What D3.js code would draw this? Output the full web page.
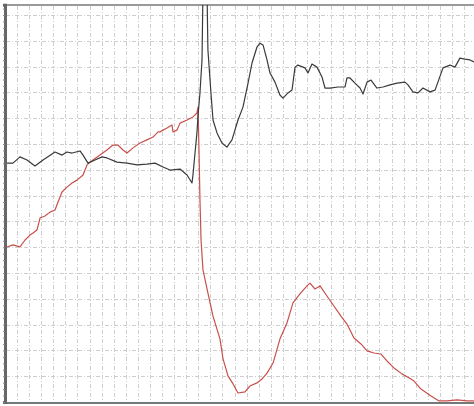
<!DOCTYPE html>
<html>
<head>
<meta charset="utf-8">
<script src="https://cdn.jsdelivr.net/npm/d3@7"></script>
<style>
  body { margin: 0; background: #fff; }
  .grid line { stroke: #cdcdcd; stroke-width: 1; stroke-dasharray: 4,2,1,2; shape-rendering: crispEdges; }
  .trace { fill: none; stroke-width: 1.2; stroke-linejoin: round; }
</style>
</head>
<body>
<script>
// x in tenths of a grid division, y in tenths of a grid division
var blackX = [1.7,6.6,12.4,18.2,24.8,31.5,41.4,47.2,51.3,55.5,62.1,64.6,68.7,74.5,80.3,84.4,92.7,101.0,109.3,117.5,124.2,130.8,136.6,144.9,150.7,154.8,155.6,157.3,158.9,159.8,161.4,163.1,163.9,167.2,168.0,170.5,172.2,175.5,179.6,183.7,187.9,192.9,197.0,201.2,204.5,208.6,211.1,213.6,216.9,219.4,223.5,227.6,230.1,234.3,237.6,240.1,242.5,248.3,250.8,254.1,258.3,262.4,264.9,269.0,275.7,281.5,283.1,285.6,289.7,293.9,296.4,299.7,303.0,307.9,312.9,318.7,324.5,331.1,333.6,337.7,341.9,346.0,351.8,356.0,358.4,362.6,368.4,372.5,376.6,380.8,384.9,388.2];
var blackY = [92.6,92.6,95.0,93.8,91.5,93.8,96.9,95.7,96.9,96.5,97.3,95.7,92.6,93.8,95.0,94.6,93.0,92.6,91.9,92.2,92.6,91.1,89.9,90.3,88.0,84.9,88.0,96.5,104.3,111.2,119.8,132.6,160,160,136.4,119.8,109.3,104.3,100.4,98.8,101.6,109.3,114.3,123.6,131.4,137.6,139.1,138.4,132.6,127.5,124.0,119.0,117.8,119.8,120.9,129.8,130.6,129.5,127.5,131.0,129.8,126.0,121.7,121.7,122.1,122.1,125.6,125.6,123.6,121.7,119.4,124.0,124.8,121.7,122.1,122.9,123.6,124.0,122.9,120.2,119.8,121.7,120.2,120.9,124.0,129.5,130.6,129.8,133.3,132.9,132.6,131.8];

var redX = [1.7,6.6,12.4,16.6,20.7,23.2,26.5,29.0,33.1,37.3,41.4,43.9,47.2,51.3,55.5,59.6,64.6,67.9,72.8,78.6,84.4,89.4,93.5,97.7,101.0,106.0,111.8,117.5,122.5,126.7,128.3,134.1,138.2,139.1,142.4,144.9,150.7,155.6,158.9,159.8,160.6,161.4,162.3,163.9,168.0,172.2,178.0,180.5,184.6,188.8,192.9,198.7,202.8,208.6,212.7,216.9,221.9,227.6,233.4,238.4,244.2,250.0,252.5,256.6,260.8,266.5,272.3,278.1,283.1,288.9,294.7,299.7,305.5,311.3,316.2,322.0,328.6,336.1,338.6,344.4,352.7,359.3,365.9,374.2,382.4,388.2];
var redY = [60.1,60.9,60.1,62.8,64.7,65.5,66.7,71.3,72.1,73.6,74.4,77.5,81.4,83.3,84.9,86.0,88.0,91.9,93.8,95.7,97.7,99.6,99.6,97.7,96.5,98.5,100.4,101.6,102.7,104.7,104.7,106.2,107.4,104.7,105.4,108.1,109.3,110.5,112.0,114.3,97.7,78.3,62.8,51.2,42.2,33.3,24.4,16.7,10.1,7.0,3.5,3.9,6.2,7.4,8.9,11.2,15.1,24.4,30.6,38.4,41.9,45.0,46.1,43.8,45.0,41.1,37.2,33.3,30.2,24.8,22.5,19.8,19.0,18.6,15.9,13.2,10.9,8.9,8.1,5.0,2.3,0.4,0.4,0.8,0.4,0.4];

var xGrid = d3.range(10, 381, 10);
var yGrid = d3.range(10, 151, 10);

var width = 474, height = 406;
var svg = d3.select("body").append("svg")
    .attr("width", width)
    .attr("height", height);

var x = d3.scaleLinear().domain([0, 390]).range([5, 476.1]);
var y = d3.scaleLinear().domain([0, 154]).range([402, 4.7]);

svg.append("clipPath").attr("id", "plot")
  .append("rect").attr("x", 5).attr("y", 5).attr("width", 471).attr("height", 397);

// dashed grid
var grid = svg.append("g").attr("class", "grid");
grid.selectAll(".vx").data(xGrid).enter().append("line")
    .attr("x1", d => Math.round(x(d)) + 0.5).attr("x2", d => Math.round(x(d)) + 0.5)
    .attr("y1", 6).attr("y2", 402);
grid.selectAll(".hy").data(yGrid).enter().append("line")
    .attr("y1", d => Math.round(y(d)) + 0.5).attr("y2", d => Math.round(y(d)) + 0.5)
    .attr("x1", 6).attr("x2", width);

// frame
svg.append("line").attr("x1", 4).attr("x2", width).attr("y1", 5).attr("y2", 5)
    .attr("stroke", "#999").attr("stroke-width", 2);
svg.append("line").attr("x1", 4).attr("x2", width).attr("y1", 403).attr("y2", 403)
    .attr("stroke", "#777").attr("stroke-width", 2);

var yAxis = d3.axisLeft(y).tickValues(d3.range(0, 155, 2.5)).tickSize(2).tickFormat("");
var ax = svg.append("g").attr("transform", "translate(5,0)").call(yAxis);
ax.select(".domain").attr("stroke", "#666").attr("stroke-width", 3);
ax.selectAll(".tick line").attr("stroke", "#888");

var line = d3.line().x(d => x(d[0])).y(d => y(d[1]));

var plot = svg.append("g").attr("clip-path", "url(#plot)");
plot.append("path").attr("class", "trace")
    .datum(d3.zip(redX, redY))
    .attr("stroke", "#c8504c")
    .attr("d", line);
plot.append("path").attr("class", "trace")
    .datum(d3.zip(blackX, blackY))
    .attr("stroke", "#3a3a3a")
    .attr("d", line);
</script>
</body>
</html>
